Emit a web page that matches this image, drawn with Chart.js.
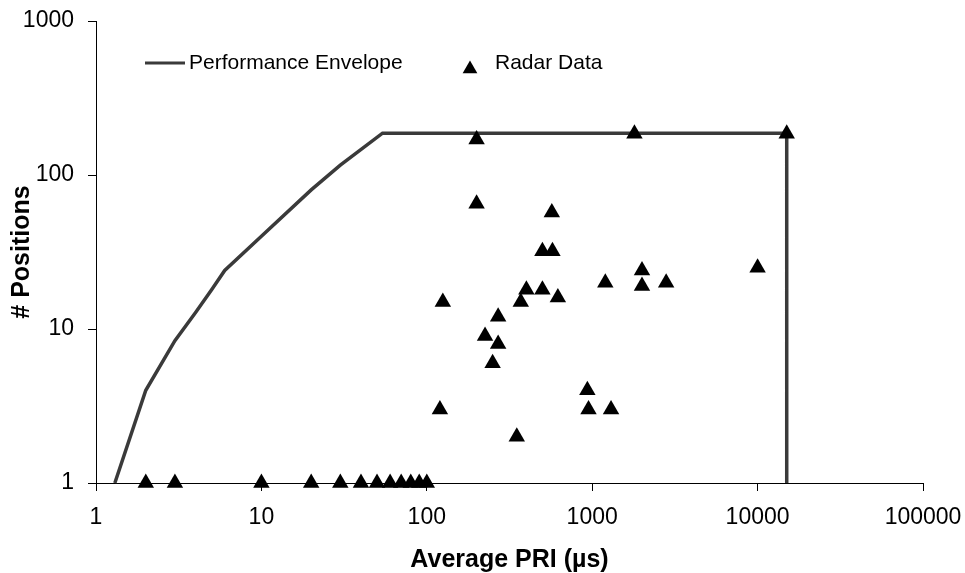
<!DOCTYPE html>
<html>
<head>
<meta charset="utf-8">
<script src="https://cdn.jsdelivr.net/npm/chart.js@4.4.0/dist/chart.umd.min.js"></script>
<style>
    body {
        margin: 0;
        background: #fff;
    }

    .chart {
        width: 965px;
        height: 573px;
    }
</style>
</head>
<body>
<div class="chart">
    <canvas id="pri-chart"></canvas>
</div>

<script>
    // performance envelope: average PRI (us) vs number of positions
    const envPri = [1.3, 2, 3, 4, 5, 6, 10, 20, 30, 54, 15000, 15000];
    const envPos = [1, 4, 8.4, 12.8, 18, 24, 40, 80, 116, 187, 187, 1];

    // radar data points
    const radarPri = [2, 3, 10, 20, 30, 40, 50, 60, 70, 80, 90, 100,
        120, 125, 200, 200, 225, 250, 270, 270, 350, 370, 400, 500,
        500, 570, 575, 620, 935, 950, 1200, 1300, 1800, 2000, 2000, 2800,
        10000, 15000];
    const radarPos = [1, 1, 1, 1, 1, 1, 1, 1, 1, 1, 1, 1,
        3, 15, 170, 65, 9, 6, 12, 8, 2, 15, 18, 32,
        18, 57, 32, 16, 4, 3, 20, 3, 185, 24, 19, 20,
        25, 185];

    const xTicks = [1, 10, 100, 1000, 10000, 100000];
    const yTicks = [1, 10, 100, 1000];

    Chart.defaults.font.family = '"Liberation Sans", Arial, sans-serif';
    Chart.defaults.color = '#000';

    // legend sits inside the plot area, like the excel original
    const insideLegend = {
        id: 'insideLegend',
        afterDraw(chart) {
            const ctx = chart.ctx;
            const area = chart.chartArea;
            const env = chart.data.datasets.find(d => d.type === 'line');
            const radar = chart.data.datasets.find(d => d.type === 'scatter');
            const y = area.top + 42;
            ctx.save();
            ctx.font = '21px "Liberation Sans", Arial, sans-serif';
            ctx.textBaseline = 'middle';
            ctx.fillStyle = '#000';
            ctx.strokeStyle = env.borderColor;
            ctx.lineWidth = 3;
            ctx.beginPath();
            ctx.moveTo(area.left + 49, y);
            ctx.lineTo(area.left + 89, y);
            ctx.stroke();
            ctx.fillText(env.label, area.left + 93, y);
            ctx.fillStyle = radar.backgroundColor;
            Chart.helpers.drawPoint(ctx, {
                pointStyle: 'triangle',
                radius: 8.5,
                rotation: 0,
                borderWidth: 0
            }, area.left + 374, y + 6);
            ctx.fillStyle = '#000';
            ctx.fillText(radar.label, area.left + 399, y);
            ctx.restore();
        }
    };

    // keep the plot box fixed; the layout padding already leaves room for labels
    function fixBox(size) {
        return s => {
            if (s.isHorizontal()) s.height = size;
            else s.width = size;
            s.paddingLeft = 0;
            s.paddingRight = 0;
            s.paddingTop = 0;
            s.paddingBottom = 0;
        };
    }

    new Chart(document.getElementById('pri-chart'), {
        data: {
            datasets: [{
                type: 'scatter',
                label: 'Radar Data',
                order: 0,
                data: radarPri.map((x, i) => ({ x: x, y: radarPos[i] })),
                pointStyle: 'triangle',
                pointRadius: 9.5,
                backgroundColor: '#000',
                borderColor: '#000',
                borderWidth: 0,
                clip: false
            }, {
                type: 'line',
                label: 'Performance Envelope',
                order: 1,
                data: envPri.map((x, i) => ({ x: x, y: envPos[i] })),
                borderColor: '#3a3a3a',
                borderWidth: 3.5,
                pointRadius: 0,
                tension: 0,
                fill: false,
                clip: false
            }]
        },
        options: {
            responsive: true,
            maintainAspectRatio: false,
            animation: false,
            layout: {
                padding: { top: 21, right: 42, left: 0, bottom: 0 }
            },
            plugins: {
                legend: { display: false },
                tooltip: { enabled: false }
            },
            scales: {
                x: {
                    type: 'logarithmic',
                    position: 'bottom',
                    min: 1,
                    max: 100000,
                    afterBuildTicks: s => { s.ticks = xTicks.map(v => ({ value: v })); },
                    afterFit: fixBox(90),
                    grid: { drawOnChartArea: false, tickLength: 8, tickColor: '#000' },
                    border: { color: '#000', width: 1 },
                    ticks: {
                        padding: 13,
                        font: { size: 23 },
                        maxRotation: 0,
                        autoSkip: false,
                        callback: v => String(v)
                    },
                    title: {
                        display: true,
                        text: 'Average PRI (µs)',
                        font: { size: 25, weight: 'bold', lineHeight: 1 },
                        padding: { top: 0, bottom: 0 }
                    }
                },
                y: {
                    type: 'logarithmic',
                    position: 'left',
                    min: 1,
                    max: 1000,
                    afterBuildTicks: s => { s.ticks = yTicks.map(v => ({ value: v })); },
                    afterFit: fixBox(96),
                    grid: { drawOnChartArea: false, tickLength: 8, tickColor: '#000' },
                    border: { color: '#000', width: 1 },
                    ticks: {
                        padding: 14,
                        font: { size: 23 },
                        autoSkip: false,
                        callback: v => String(v)
                    },
                    title: {
                        display: true,
                        text: '# Positions',
                        font: { size: 25, weight: 'bold', lineHeight: 1 },
                        padding: { top: 10, bottom: 0 }
                    }
                }
            }
        },
        plugins: [insideLegend]
    });
</script>
</body>
</html>
